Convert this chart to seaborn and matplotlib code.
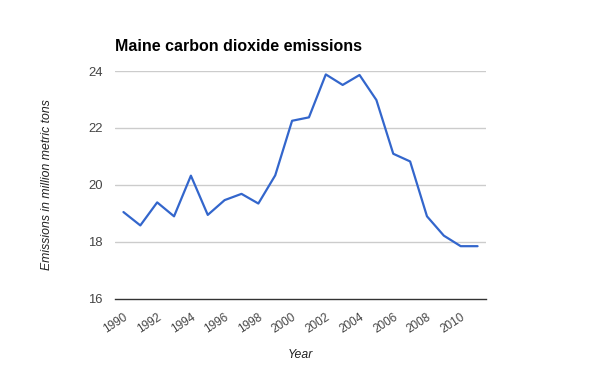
import numpy as np
import pandas as pd
import seaborn as sns
import matplotlib.pyplot as plt

# Values
years = list(range(1990, 2012))
emissions = [19.04, 18.57, 19.38, 18.89, 20.32, 18.94, 19.46, 19.68, 19.34, 20.33,
             22.25, 22.37, 23.88, 23.51, 23.86, 22.98, 21.09, 20.82, 18.89, 18.21,
             17.84, 17.84]
y_ticks = [16, 18, 20, 22, 24]
x_ticks = list(range(1990, 2011, 2))

data = pd.DataFrame({'Year': years, 'Emissions': emissions})

sns.set_style('white')
plt.rcParams['font.family'] = ['Liberation Sans', 'DejaVu Sans']

fig = plt.figure(figsize=(6, 3.71), dpi=100)
ax = fig.add_axes([0.1917, 0.1954, 0.6183, 0.6132])

sns.lineplot(data=data, x='Year', y='Emissions', color='#3366CC', linewidth=1.6, ax=ax)

ax.set_xlim(1989.5, 2011.5)
ax.set_ylim(16, 24)
ax.set_yticks(y_ticks)
ax.set_xticks(x_ticks)
ax.set_xticklabels([str(x) for x in x_ticks], rotation=33, ha='right',
                   rotation_mode='anchor')
ax.tick_params(axis='both', length=0, colors='#444444')
ax.tick_params(axis='x', pad=9, labelsize=8.5)
ax.tick_params(axis='y', pad=9, labelsize=9.4)

for v in y_ticks[1:]:
    ax.axhline(v, color='#CCCCCC', linewidth=1, zorder=0)

for side in ['top', 'right', 'left']:
    ax.spines[side].set_visible(False)
ax.spines['bottom'].set_color('#333333')
ax.spines['bottom'].set_linewidth(1)

ax.set_xlabel('Year', fontsize=8.8, style='italic', color='#222222')
ax.xaxis.set_label_coords(0.5, -0.22)
ax.set_ylabel('Emissions in million metric tons', fontsize=8.8, style='italic',
              color='#222222')
ax.yaxis.set_label_coords(-0.168, 0.5)

fig.text(0.1917, 0.8625, 'Maine carbon dioxide emissions', fontsize=11.5,
         fontweight='bold', color='black', ha='left', va='baseline')

plt.savefig('out.png', dpi=100)
